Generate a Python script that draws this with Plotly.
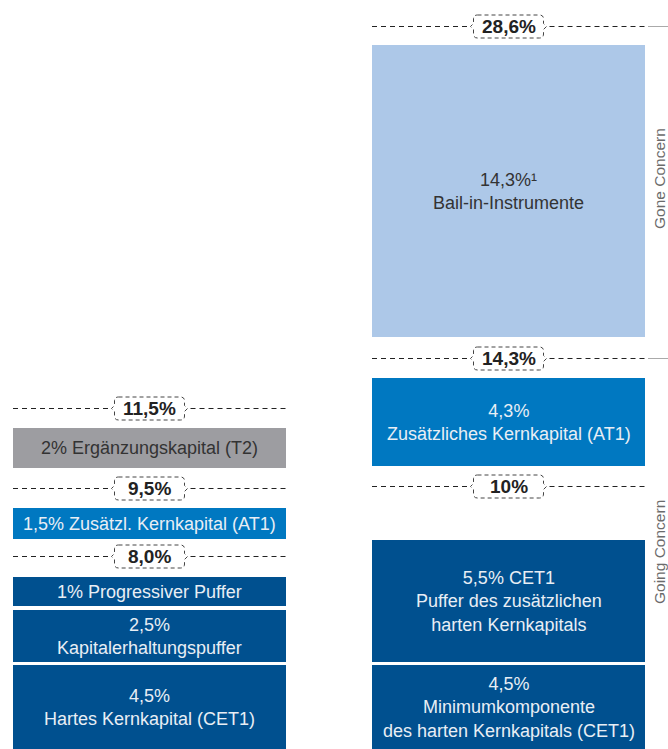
import plotly.graph_objects as go

# ---------------- data ----------------
left_labels = [
    "4,5%<br>Hartes Kernkapital (CET1)",
    "2,5%<br>Kapitalerhaltungspuffer",
    "1% Progressiver Puffer",
    "1,5% Zusätzl. Kernkapital (AT1)",
    "2% Ergänzungskapital (T2)",
]
left_values = [4.5, 2.5, 1.0, 1.5, 2.0]
left_thresholds = ["8,0%", "9,5%", "11,5%"]

right_labels = [
    "4,5%<br>Minimumkomponente<br>des harten Kernkapitals (CET1)",
    "5,5% CET1<br>Puffer des zusätzlichen<br>harten Kernkapitals",
    "4,3%<br>Zusätzliches Kernkapital (AT1)",
    "14,3%¹<br>Bail-in-Instrumente",
]
right_values = [4.5, 5.5, 4.3, 14.3]
right_thresholds = ["10%", "14,3%", "28,6%"]

side_labels = ["Going Concern", "Gone Concern"]

# ---------------- layout (schematic geometry, screen pixels) ----------------
W, H = 668, 749
col_width = 273
left_cx, right_cx = 149.5, 508.5
left_blocks = [(665, 749), (610, 662), (577, 606), (508, 539), (428, 468)]
left_lines = [556, 488, 408]
right_blocks = [(665, 749), (540, 662), (378, 466), (45, 337)]
right_lines = [486, 358, 26]
side_pos = [(659, 552), (659, 179)]

# ---------------- styles ----------------
DARK = "#00508f"
MID = "#0078c1"
GRAY = "#9d9da1"
LIGHT = "#adc8e8"
left_colors = [DARK, DARK, DARK, MID, GRAY]
right_colors = [DARK, DARK, MID, LIGHT]
light_text = "#e8eef5"
dark_text = "#333333"
left_text_colors = [light_text, light_text, light_text, light_text, dark_text]
right_text_colors = [light_text, light_text, light_text, dark_text]
FONT = "Liberation Sans, Arial, sans-serif"

fig = go.Figure()


def add_column(cx, labels, values, blocks, colors, tcolors):
    fig.add_trace(go.Bar(
        x=[cx] * len(values),
        base=[b[0] for b in blocks],
        y=[b[1] - b[0] for b in blocks],
        width=[col_width] * len(values),
        marker=dict(color=colors, line=dict(width=0)),
        customdata=values,
        hovertemplate="%{customdata}%<extra></extra>",
        showlegend=False,
    ))
    for lab, (t, b), tc in zip(labels, blocks, tcolors):
        fig.add_annotation(x=cx, y=(t + b) / 2, text=lab, showarrow=False,
                           font=dict(family=FONT, size=18, color=tc),
                           align="center", xref="x", yref="y")


def box_path(cx, cy, w=70, h=23, r=4, bump=3):
    x0, x1 = cx - w / 2, cx + w / 2
    y0, y1 = cy - h / 2, cy + h / 2
    return (
        f"M {x0 + r},{y0} L {x1 - r},{y0} Q {x1},{y0} {x1},{y0 + r} "
        f"L {x1},{cy - 3} L {x1 + bump},{cy} L {x1},{cy + 3} "
        f"L {x1},{y1 - r} Q {x1},{y1} {x1 - r},{y1} "
        f"L {x0 + r},{y1} Q {x0},{y1} {x0},{y1 - r} "
        f"L {x0},{cy + 3} L {x0 - bump},{cy} L {x0},{cy - 3} "
        f"L {x0},{y0 + r} Q {x0},{y0} {x0 + r},{y0} Z"
    )


def add_thresholds(cx, labels, lines, extend_idx=()):
    xl, xr = cx - col_width / 2, cx + col_width / 2
    for i, (lab, y) in enumerate(zip(labels, lines)):
        yl = y + 0.5  # crisp 1px stroke
        for a, b in [(xl, cx - 40), (cx + 41, xr)]:
            fig.add_shape(type="line", x0=a, x1=b, y0=yl, y1=yl, xref="x", yref="y",
                          line=dict(color="#222222", width=1, dash="5px,4px"))
        fig.add_shape(type="path", path=box_path(cx, yl), xref="x", yref="y",
                      line=dict(color="#444444", width=1, dash="4px,3px"),
                      fillcolor="white")
        fig.add_annotation(x=cx, y=y, text=f"<b>{lab}</b>", showarrow=False,
                           font=dict(family=FONT, size=19, color="#222222"),
                           xref="x", yref="y")
        if i in extend_idx:
            fig.add_shape(type="line", x0=xr + 3, x1=W, y0=yl, y1=yl, xref="x", yref="y",
                          line=dict(color="#aaaaaa", width=1))


add_column(left_cx, left_labels, left_values, left_blocks, left_colors, left_text_colors)
add_column(right_cx, right_labels, right_values, right_blocks, right_colors, right_text_colors)
add_thresholds(left_cx, left_thresholds, left_lines)
add_thresholds(right_cx, right_thresholds, right_lines, extend_idx=(1, 2))

for lab, (x, y) in zip(side_labels, side_pos):
    fig.add_annotation(x=x, y=y, text=lab, textangle=-90, showarrow=False,
                       font=dict(family=FONT, size=15.5, color="#6b6b6b"),
                       xref="x", yref="y")

fig.update_layout(
    width=W, height=H,
    margin=dict(l=0, r=0, t=0, b=0),
    paper_bgcolor="white", plot_bgcolor="white",
    barmode="overlay", bargap=0,
    xaxis=dict(range=[0, W], visible=False, fixedrange=True),
    yaxis=dict(range=[H, 0], visible=False, fixedrange=True),
)

fig.write_html(
    "out.html",
    config={"displayModeBar": False},
    post_script="document.body.style.margin='0';document.body.style.overflow='hidden';",
)
